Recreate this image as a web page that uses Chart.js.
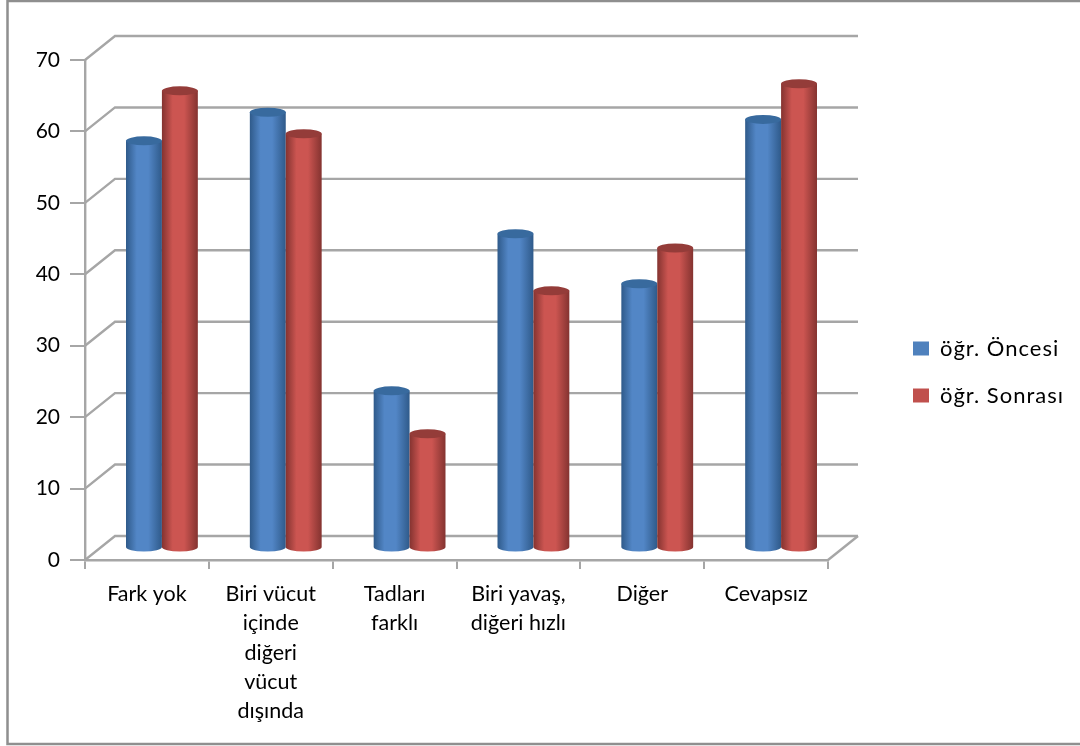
<!DOCTYPE html>
<html>
<head>
<meta charset="utf-8">
<title>öğr. Öncesi / Sonrası</title>
<script src="https://cdn.jsdelivr.net/npm/chart.js@4"></script>
<style>
    html, body { margin: 0; padding: 0; background: #fff; }
    #wrap { width: 1080px; height: 746px; }
</style>
</head>
<body>
<div id="wrap"><canvas id="cylChart" width="1080" height="746"></canvas></div>
<script>
const categories = ['Fark yok', ['Biri vücut', 'içinde', 'diğeri', 'vücut', 'dışında'], ['Tadları', 'farklı'], ['Biri yavaş,', 'diğeri hızlı'], 'Diğer', 'Cevapsız'];
const onceValues = [57, 61, 22, 44, 37, 60];
const sonraValues = [64, 58, 16, 36, 42, 65];
const yTicks = [0, 10, 20, 30, 40, 50, 60, 70];
const seriesNames = ['öğr. Öncesi', 'öğr. Sonrası'];

const AXIS_GREY = '#a6a6a6';
const DEPTH_X = 30;
const DEPTH_Y = 24;
const FONT = 'Lato, Carlito, sans-serif';

// shades for the cylinder sides and lids
const shades = [
    { edge: '#2f5a8a', mid: '#5286c6', lid: '#386a9e' },
    { edge: '#843330', mid: '#cc5551', lid: '#943c39' }
];

// outer frame and the back wall of the 3D box
const wallPlugin = {
    id: 'wall',
    beforeDraw(chart) {
        const ctx = chart.ctx;
        const { left, right, bottom } = chart.chartArea;
        const y = chart.scales.y;

        ctx.save();
        ctx.strokeStyle = '#8f8f8f';
        ctx.lineWidth = 2.5;
        ctx.beginPath();
        ctx.moveTo(1080, 1);
        ctx.lineTo(7.5, 1);
        ctx.lineTo(7.5, 744);
        ctx.lineTo(1080, 744);
        ctx.stroke();

        ctx.strokeStyle = AXIS_GREY;
        ctx.lineWidth = 2.4;
        yTicks.forEach(t => {
            const py = y.getPixelForValue(t);
            ctx.beginPath();
            ctx.moveTo(left, py);
            ctx.lineTo(left + DEPTH_X, py - DEPTH_Y);
            ctx.lineTo(right + DEPTH_X, py - DEPTH_Y);
            ctx.stroke();
        });
        // floor edge on the right
        ctx.beginPath();
        ctx.moveTo(right, bottom);
        ctx.lineTo(right + DEPTH_X, bottom - DEPTH_Y);
        ctx.stroke();
        ctx.restore();
    }
};

// bars are drawn as cylinders standing on the floor of the box
const cylinderPlugin = {
    id: 'cylinders',
    beforeDatasetsDraw(chart) {
        const ctx = chart.ctx;
        const count = categories.length;
        ctx.save();
        ctx.translate(DEPTH_X / 2, -DEPTH_Y / 2);
        for (let i = 0; i < count; i++) {
            chart.data.datasets.forEach((ds, d) => {
                const bar = chart.getDatasetMeta(d).data[i];
                drawCylinder(ctx, bar.x, bar.y, bar.base, bar.width, shades[d]);
            });
        }
        ctx.restore();
        return false;
    }
};

function drawCylinder(ctx, x, top, base, width, shade) {
    const rx = width / 2;
    const ry = 4.5;
    const grad = ctx.createLinearGradient(x - rx, 0, x + rx, 0);
    grad.addColorStop(0, shade.edge);
    grad.addColorStop(0.3, shade.mid);
    grad.addColorStop(0.62, shade.mid);
    grad.addColorStop(1, shade.edge);

    ctx.fillStyle = grad;
    ctx.beginPath();
    ctx.moveTo(x - rx, top);
    ctx.lineTo(x - rx, base);
    ctx.ellipse(x, base, rx, ry, 0, Math.PI, 0, true);
    ctx.lineTo(x + rx, top);
    ctx.closePath();
    ctx.fill();

    ctx.fillStyle = shade.lid;
    ctx.beginPath();
    ctx.ellipse(x, top, rx, ry, 0, 0, Math.PI * 2);
    ctx.fill();
}

// legend keeps a fixed slot on the right, swatches start at x=913
const legendSlotPlugin = {
    id: 'legendSlot',
    beforeLayout(chart) {
        const legend = chart.legend;
        if (legend._slotted) return;
        const fit = legend.fit;
        const draw = legend.draw;
        legend.fit = function () {
            fit.call(this);
            this.width = 252;
        };
        legend.draw = function () {
            chart.ctx.letterSpacing = '1px';
            draw.call(this);
            chart.ctx.letterSpacing = '0px';
        };
        legend._slotted = true;
    },
    afterLayout(chart) {
        const legend = chart.legend;
        legend.left = 888;
        legend.right = 1080;
        legend.top -= 31;
        legend.bottom -= 31;
    }
};

new Chart(document.getElementById('cylChart'), {
    type: 'bar',
    data: {
        labels: categories,
        datasets: [
            { label: seriesNames[0], data: onceValues, backgroundColor: '#4f81bd', categoryPercentage: 0.58, barPercentage: 1 },
            { label: seriesNames[1], data: sonraValues, backgroundColor: '#c0504d', categoryPercentage: 0.58, barPercentage: 1 }
        ]
    },
    options: {
        responsive: false,
        animation: false,
        layout: { padding: { top: 60, left: 0, right: 0, bottom: 0 } },
        scales: {
            x: {
                afterFit: s => { s.height = 186; },
                grid: { drawOnChartArea: false, drawTicks: true, tickLength: 9, color: AXIS_GREY, lineWidth: 2 },
                border: { color: AXIS_GREY, width: 2.4 },
                ticks: { color: '#000', maxRotation: 0, autoSkip: false, padding: 10, font: { family: FONT, size: 21.5, lineHeight: 1.37 } }
            },
            y: {
                min: 0,
                max: 70,
                afterFit: s => { s.width = 85; },
                afterBuildTicks: s => { s.ticks = yTicks.map(v => ({ value: v })); },
                grid: { drawOnChartArea: false, drawTicks: true, tickLength: 15, color: AXIS_GREY, lineWidth: 2 },
                border: { color: AXIS_GREY, width: 2.4 },
                ticks: { color: '#000', padding: 10, font: { family: FONT, size: 21 } }
            }
        },
        plugins: {
            tooltip: { enabled: false },
            legend: {
                position: 'right',
                align: 'center',
                labels: { boxWidth: 16, boxHeight: 14, padding: 25, color: '#000', font: { family: FONT, size: 22 } }
            }
        }
    },
    plugins: [wallPlugin, cylinderPlugin, legendSlotPlugin]
});
</script>
</body>
</html>
